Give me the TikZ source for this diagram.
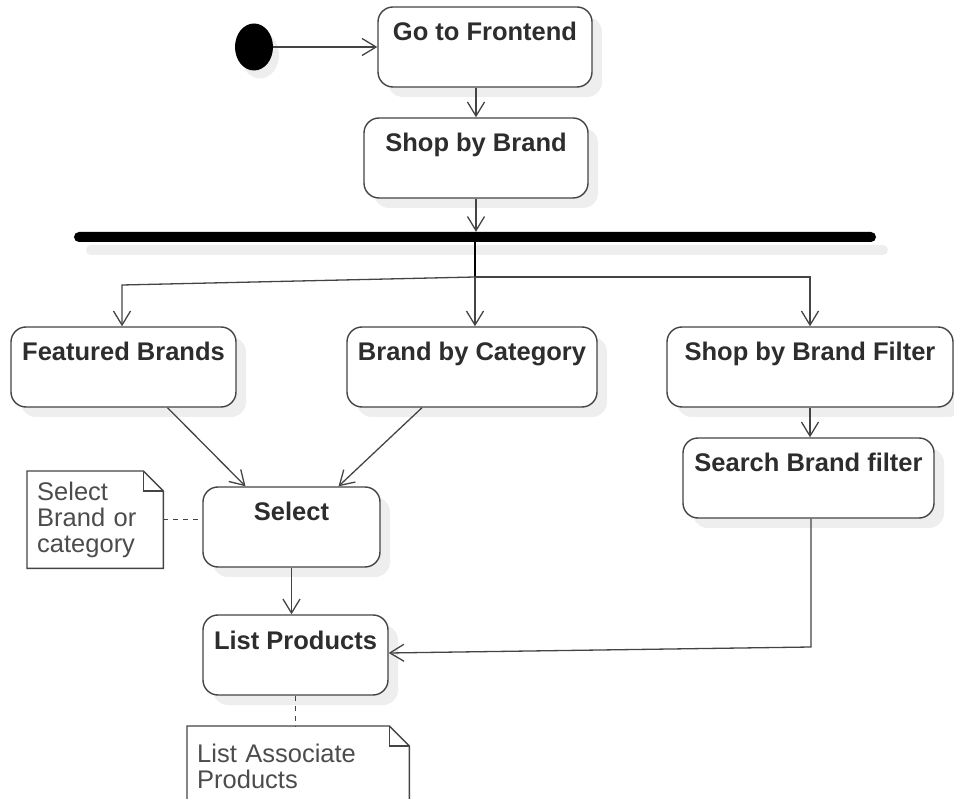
\documentclass[tikz,border=0pt]{standalone}
\usepackage{fontspec}
\setmainfont{Liberation Sans}
\usetikzlibrary{arrows.meta,calc,shadows,shapes.geometric}
\definecolor{LineClr}{RGB}{68,68,68}
\definecolor{TextClr}{RGB}{45,45,45}
\definecolor{ShadowClr}{RGB}{238,238,238}

\begin{document}
\begin{tikzpicture}[x=1pt,y=-1pt,
  shade box/.style={drop shadow={shadow xshift=10pt,shadow yshift=-10pt,fill=ShadowClr,opacity=1}},
  action/.style={draw=LineClr,line width=1.4pt,rounded corners=15pt,fill=white,shade box,
    inner sep=0pt,text height=34pt,text depth=46pt,text=TextClr,
    font=\bfseries\fontsize{25.5}{30}\selectfont},
  notetext/.style={inner xsep=10pt,inner ysep=0pt,align=left,text=TextClr!85,
    font=\fontsize{25.5}{26}\selectfont},
  noteline/.style={draw=LineClr,line width=1.4pt},
  flow/.style={draw=LineClr,line width=1.3pt,-{Straight Barb[length=14pt,width=17pt,line width=1.3pt]}},
  link/.style={draw=LineClr,line width=1.3pt,dash pattern=on 5pt off 5pt}]
\useasboundingbox (0,0) rectangle (954,799);

\node[ellipse,fill=black,minimum width=38pt,minimum height=47pt,inner sep=0pt,
  drop shadow={shadow xshift=6pt,shadow yshift=-8pt,fill=ShadowClr,opacity=1}] (start) at (254,47) {};

\node[action,minimum width=214pt] (go) at (485,47) {Go to Frontend};
\node[action,minimum width=224pt] (shop) at (476,158) {Shop by Brand};

\node[fill=black,rounded corners=5pt,minimum width=802pt,minimum height=10pt,inner sep=0pt,
  drop shadow={shadow xshift=12pt,shadow yshift=-13pt,fill=ShadowClr,opacity=1}] (fork) at (475,237) {};
\coordinate (split) at (475,277);
\coordinate (kink) at (122,285);

\node[action,minimum width=225pt] (feat) at (123.5,367) {Featured Brands};
\node[action,minimum width=250pt] (cat) at (472,367) {Brand by Category};
\node[action,minimum width=286pt] (filter) at (810,367) {Shop by Brand Filter};
\node[action,minimum width=251pt] (search) at (808.5,478) {Search Brand filter};
\node[action,minimum width=177pt] (select) at (291.5,527) {Select};
\node[action,minimum width=185pt] (list) at (295.5,655) {List Products};
\coordinate (turn) at (811,647);

% notes
\node[notetext,text width=116pt,minimum height=97pt,anchor=north west] (selnote) at (27,471) {Select\\Brand or\\category};
\node[notetext,text width=202pt,minimum height=80pt,anchor=north west] (lstnote) at (187,726) {List Associate\\Products};

\foreach \n in {selnote,lstnote}{
  \draw[noteline] (\n.north west) -- ([xshift=-20pt]\n.north east) -- ([yshift=-20pt]\n.north east)
    -- (\n.south east) -- (\n.south west) -- cycle;
  \draw[noteline] ([xshift=-20pt]\n.north east) |- ([yshift=-20pt]\n.north east);
}

\draw[flow] (start.east) -- (go.west);
\draw[flow] (go.south -| shop.north) -- (shop.north);
\draw[flow] (shop.south) -- (shop.south |- fork.north);

\draw[draw=black,line width=2pt] (fork.south -| split) -- (split);
\draw[flow] (split) -- (kink) -- (kink |- feat.north);
\draw[flow] (split) -- (split |- cat.north);
\draw[flow] (split) -- (split -| filter.north) -- (filter.north);

\draw[flow] ([xshift=44pt]feat.south) -- ([xshift=-46pt]select.north);
\draw[flow] ([xshift=-50pt]cat.south) -- ([xshift=47pt]select.north);
\draw[flow] (filter.south) -- (filter.south |- search.north);
\draw[flow] (select.south) -- (select.south |- list.north);
\draw[flow] (search.south -| turn) -- (turn) -- ([yshift=2pt]list.east);

\draw[link] (selnote.east) -- (select.west |- selnote.east);
\draw[link] (list.south) -- (list.south |- lstnote.north);

\end{tikzpicture}
\end{document}
